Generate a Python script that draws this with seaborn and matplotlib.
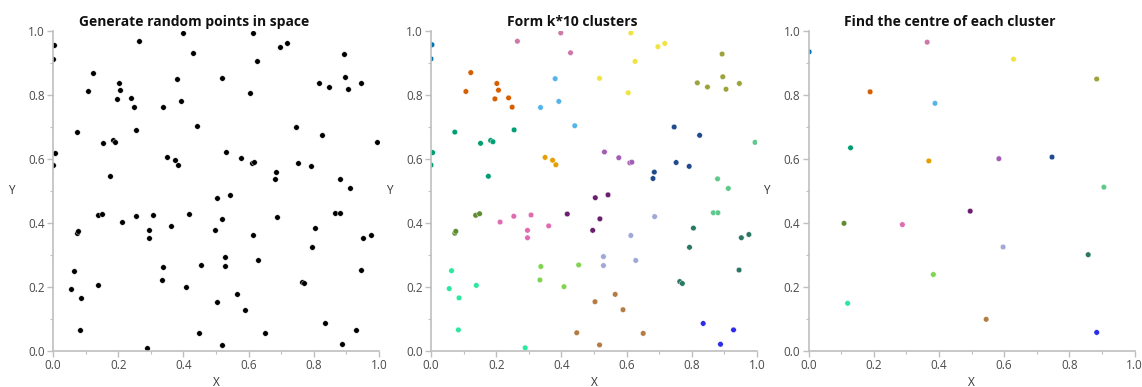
import numpy as np
import pandas as pd
import matplotlib
matplotlib.use("Agg")
import matplotlib.pyplot as plt
import seaborn as sns
from matplotlib.ticker import MultipleLocator

sns.set_theme(style="white")
plt.rcParams['font.family'] = ['Open Sans', 'DejaVu Sans']

# ---- data: 100 random points with their cluster label ----
point_x = [0.003, 0.000,
           0.122, 0.107, 0.202, 0.207, 0.196, 0.238, 0.249,
           0.265, 0.398, 0.428,
           0.613, 0.696, 0.717, 0.626, 0.517, 0.605,
           0.381, 0.392, 0.336, 0.441,
           0.893, 0.895, 0.817, 0.848, 0.905, 0.946,
           0.073, 0.255, 0.152, 0.183, 0.190, 0.005, 0.000, 0.176,
           0.350, 0.373, 0.383,
           0.532, 0.576, 0.610, 0.616,
           0.746, 0.824, 0.752, 0.792, 0.685, 0.681,
           0.994, 0.879, 0.912, 0.866, 0.880,
           0.073, 0.076, 0.137, 0.149,
           0.212, 0.254, 0.307, 0.296, 0.296, 0.361,
           0.418, 0.504, 0.543, 0.518, 0.496,
           0.686, 0.613, 0.529, 0.529, 0.628,
           0.337, 0.334, 0.408, 0.453,
           0.805, 0.793, 0.952, 0.975, 0.945, 0.763, 0.771,
           0.063, 0.056, 0.086, 0.139, 0.084, 0.289,
           0.447, 0.503, 0.565, 0.589, 0.651, 0.517,
           0.835, 0.928, 0.888]
point_y = [0.957, 0.913,
           0.870, 0.811, 0.836, 0.815, 0.788, 0.791, 0.762,
           0.968, 0.994, 0.932,
           0.994, 0.951, 0.961, 0.905, 0.852, 0.807,
           0.851, 0.780, 0.761, 0.704,
           0.928, 0.857, 0.838, 0.825, 0.818, 0.836,
           0.684, 0.691, 0.649, 0.658, 0.654, 0.620, 0.581, 0.546,
           0.605, 0.596, 0.582,
           0.622, 0.604, 0.588, 0.590,
           0.700, 0.674, 0.589, 0.577, 0.559, 0.539,
           0.652, 0.538, 0.508, 0.432, 0.432,
           0.368, 0.374, 0.424, 0.429,
           0.403, 0.421, 0.425, 0.377, 0.354, 0.391,
           0.428, 0.479, 0.488, 0.413, 0.377,
           0.420, 0.361, 0.295, 0.267, 0.283,
           0.264, 0.222, 0.201, 0.269,
           0.384, 0.324, 0.354, 0.364, 0.253, 0.217, 0.211,
           0.251, 0.195, 0.166, 0.205, 0.066, 0.010,
           0.057, 0.154, 0.177, 0.129, 0.055, 0.019,
           0.086, 0.066, 0.021]
point_cluster = ([0] * 2 + [1] * 7 + [2] * 3 + [3] * 6 + [4] * 4 + [5] * 6 +
                 [6] * 8 + [7] * 3 + [8] * 4 + [9] * 6 + [10] * 5 + [11] * 4 +
                 [12] * 6 + [13] * 5 + [14] * 5 + [15] * 4 + [16] * 7 +
                 [17] * 6 + [18] * 6 + [19] * 3)

# ---- cluster centres ----
centre_cluster = list(range(20))
centre_x = [0.002, 0.189, 0.364, 0.629, 0.388, 0.884, 0.129, 0.369, 0.584, 0.747,
            0.906, 0.109, 0.288, 0.496, 0.597, 0.383, 0.858, 0.120, 0.545, 0.884]
centre_y = [0.935, 0.810, 0.965, 0.912, 0.774, 0.850, 0.635, 0.594, 0.601, 0.606,
            0.512, 0.399, 0.395, 0.437, 0.325, 0.239, 0.301, 0.149, 0.099, 0.058]

cluster_colors = ['#0072B2', '#D55E00', '#CC79A7', '#F0E442', '#56B4E9',
                  '#9BA33A', '#009E73', '#E69F00', '#A35DB5', '#1F4A8C',
                  '#5DC98A', '#5E8C31', '#E06BB0', '#6A1E6E', '#A0A8D8',
                  '#7FD450', '#2A7763', '#2BE8A0', '#B47B44', '#2B2BE8']

titles = ['Generate random points in space', 'Form k*10 clusters',
          'Find the centre of each cluster']

points = pd.DataFrame({'x': point_x, 'y': point_y, 'cluster': point_cluster})
centres = pd.DataFrame({'x': centre_x, 'y': centre_y, 'cluster': centre_cluster})
palette = {i: c for i, c in enumerate(cluster_colors)}

W, H = 1142, 387
fig = plt.figure(figsize=(W / 100, H / 100), dpi=100)
lefts = [53, 431, 808.5]
axes = [fig.add_axes([l / W, (H - 351) / H, 326 / W, 320 / H]) for l in lefts]

spine_c = '#BFBFBF'
tick_c = '#4A4A4A'
ms = 16

sns.scatterplot(data=points, x='x', y='y', color='black', s=ms,
                edgecolor='white', linewidth=0.3, ax=axes[0], legend=False)
sns.scatterplot(data=points, x='x', y='y', hue='cluster', palette=palette, s=ms,
                edgecolor='white', linewidth=0.3, ax=axes[1], legend=False)
sns.scatterplot(data=centres, x='x', y='y', hue='cluster', palette=palette, s=ms,
                edgecolor='white', linewidth=0.3, ax=axes[2], legend=False)

for ax, t in zip(axes, titles):
    ax.set_xlim(0, 1)
    ax.set_ylim(0, 1)
    ax.xaxis.set_major_locator(MultipleLocator(0.2))
    ax.yaxis.set_major_locator(MultipleLocator(0.2))
    ax.xaxis.set_minor_locator(MultipleLocator(0.1))
    ax.yaxis.set_minor_locator(MultipleLocator(0.1))
    ax.xaxis.set_major_formatter(matplotlib.ticker.FormatStrFormatter('%.1f'))
    ax.yaxis.set_major_formatter(matplotlib.ticker.FormatStrFormatter('%.1f'))
    for s in ['top', 'right']:
        ax.spines[s].set_visible(False)
    for s in ['left', 'bottom']:
        ax.spines[s].set_color(spine_c)
        ax.spines[s].set_linewidth(1.2)
    ax.tick_params(which='major', direction='out', length=4, width=1, color=spine_c,
                   labelsize=8.5, labelcolor=tick_c, pad=2, bottom=True, left=True)
    ax.tick_params(which='minor', direction='out', length=2.5, width=0.8, color=spine_c,
                   bottom=True, left=True)
    ax.set_xlabel('X', fontsize=8.5, color='#333333')
    ax.set_ylabel('Y', fontsize=8.5, color='#333333', rotation=0)
    ax.yaxis.set_label_coords(-42 / 326, 0.5)
    ax.xaxis.set_label_coords(0.5, -25 / 320)
    ax.yaxis.label.set_va('center')
    ax.text(0.5 - 22 / 326, 1 + 9 / 320, t, transform=ax.transAxes, ha='center',
            va='center', fontsize=10, fontweight='bold', color='#111111')

fig.savefig('out.png', dpi=100)
